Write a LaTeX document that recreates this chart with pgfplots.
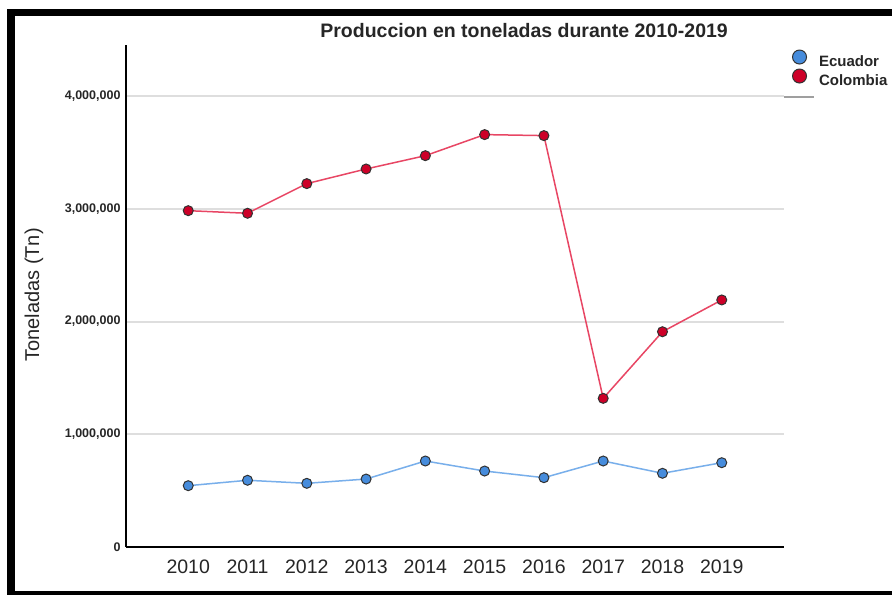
\documentclass[border=0pt]{standalone}
\usepackage{fontspec}
\setmainfont{Liberation Sans}
\usepackage{pgfplots}
\pgfplotsset{compat=1.18}
\definecolor{ecuLine}{RGB}{120,175,235}
\definecolor{ecuFill}{RGB}{70,140,220}
\definecolor{colLine}{RGB}{232,70,100}
\definecolor{colFill}{RGB}{205,0,40}
\definecolor{gridc}{RGB}{222,222,222}
\definecolor{markedge}{RGB}{50,50,50}
\begin{document}
\begin{tikzpicture}
\fill[white] (0pt,0pt) rectangle (892pt,595pt);
\begin{axis}[
  at={(126pt,48pt)}, anchor=south west,
  scale only axis, width=658pt, height=502pt,
  xmin=-1.05, xmax=10.05, ymin=0, ymax=4454000,
  axis x line=bottom, axis y line=left,
  x axis line style={-, black, line width=2pt},
  y axis line style={-, black, line width=1.3pt},
  major tick length=0pt,
  scaled y ticks=false,
  xtick={0,1,2,3,4,5,6,7,8,9},
  xticklabels={2010,2011,2012,2013,2014,2015,2016,2017,2018,2019},
  ytick={0,1000000,2000000,3000000,4000000},
  yticklabels={0,{1,000,000},{2,000,000},{3,000,000},{4,000,000}},
  xticklabel style={font=\fontsize{19.5}{20}\selectfont, text=black!85, yshift=-9pt},
  yticklabel style={font=\fontsize{12.5}{13}\selectfont\bfseries, text=black!85, xshift=-2pt},
  ymajorgrids, grid style={gridc, line width=2pt},
  title={Produccion en toneladas durante 2010-2019},
  title style={font=\fontsize{19.5}{20}\selectfont\bfseries, text=black!85, at={(axis description cs:0.605,1.0035)}, anchor=base},
  ylabel={Toneladas (Tn)},
  ylabel style={font=\fontsize{20}{21}\selectfont, text=black!85, at={(axis description cs:-0.14,0.502)}, anchor=center},
  legend style={at={(axis description cs:1.0122,0.991)}, anchor=north west, draw=none, fill=none, inner sep=0pt, outer sep=0pt, row sep=-1pt, font=\fontsize{15}{16}\selectfont\bfseries, text=black!85, nodes={inner sep=0pt, text height=12pt, text depth=3pt}, /tikz/every odd column/.append style={column sep=12pt}},
  legend cell align=left,
  clip=false,
]
\addplot[ecuLine, line width=1.5pt, mark=*, mark size=5pt,
  mark options={fill=ecuFill, draw=markedge, line width=1pt},
  legend image code/.code={\draw[fill=ecuFill, draw=markedge, line width=1pt] (7pt,5pt) circle (7pt);}]
  coordinates {(0,544000) (1,592000) (2,565000) (3,603000) (4,763000) (5,674000) (6,615000) (7,763000) (8,654000) (9,748000)};
\addlegendentry{Ecuador}
\addplot[colLine, line width=1.5pt, mark=*, mark size=5pt,
  mark options={fill=colFill, draw=markedge, line width=1pt},
  legend image code/.code={\draw[fill=colFill, draw=markedge, line width=1pt] (7pt,5pt) circle (7pt);}]
  coordinates {(0,2984000) (1,2961000) (2,3224000) (3,3354000) (4,3472000) (5,3659000) (6,3650000) (7,1319000) (8,1910000) (9,2192000)};
\addlegendentry{Colombia}
\end{axis}
\draw[gray!75, line width=1.5pt] (784pt,498pt) -- (814pt,498pt);
\fill[black] (7pt,579pt) rectangle (892pt,586pt);
\fill[black] (7pt,0pt) rectangle (15pt,586pt);
\fill[black] (7pt,0pt) rectangle (892pt,4pt);
\end{tikzpicture}
\end{document}
